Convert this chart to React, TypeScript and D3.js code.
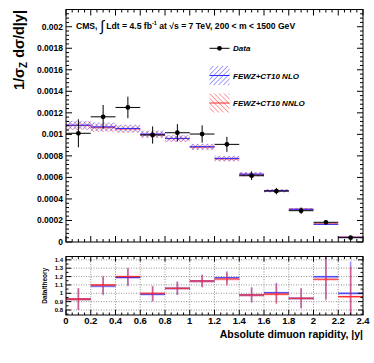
import React from 'react';
import * as d3 from 'd3';

// |y| bins (lower edges), width 0.2
const binLo = [0, 0.2, 0.4, 0.6, 0.8, 1.0, 1.2, 1.4, 1.6, 1.8, 2.0, 2.2];
const binWidth = 0.2;

// measured 1/sigma dsigma/d|y|
const dataVal = [0.00101, 0.001163, 0.00125, 0.000994, 0.001015, 0.001003, 0.000907, 0.000616, 0.000473, 0.000291, 0.000183, 0.00004];
const dataErr = [0.00013, 0.00011, 0.0001, 0.00008, 0.00008, 0.00008, 0.00007, 0.00004, 0.00003, 0.00003, 0.00002, 0.00001];

// theory predictions
const nloVal = [0.001086, 0.00107, 0.001055, 0.001003, 0.000963, 0.000885, 0.000777, 0.000631, 0.000476, 0.000304, 0.000164, 0.000044];
const nnloVal = [0.001082, 0.001062, 0.00105, 0.000998, 0.00096, 0.000882, 0.000772, 0.000628, 0.000478, 0.000305, 0.000168, 0.000046];
const theoryErr = [0.00004, 0.00004, 0.000035, 0.000032, 0.00003, 0.000027, 0.000024, 0.00002, 0.000015, 0.00001, 0.000006, 0.000003];

// data / theory
const ratioNlo = [0.93, 1.087, 1.19, 0.99, 1.06, 1.146, 1.185, 0.98, 1.007, 0.94, 1.198, 1.0];
const ratioNloErr = [0.13, 0.11, 0.105, 0.09, 0.08, 0.075, 0.08, 0.09, 0.12, 0.12, 0.27, 0.38];
const ratioNnlo = [0.93, 1.1, 1.2, 1.0, 1.06, 1.146, 1.17, 0.98, 0.99, 0.94, 1.167, 0.96];
const ratioNnloErr = [0.13, 0.11, 0.105, 0.09, 0.08, 0.075, 0.08, 0.09, 0.12, 0.12, 0.25, 0.36];

const yTicks = [0, 0.0002, 0.0004, 0.0006, 0.0008, 0.001, 0.0012, 0.0014, 0.0016, 0.0018, 0.002];
const yTickLabels = ['0', '0.0002', '0.0004', '0.0006', '0.0008', '0.001', '0.0012', '0.0014', '0.0016', '0.0018', '0.002'];
const xTicks = [0, 0.2, 0.4, 0.6, 0.8, 1, 1.2, 1.4, 1.6, 1.8, 2, 2.2, 2.4];
const xTickLabels = ['0', '0.2', '0.4', '0.6', '0.8', '1', '1.2', '1.4', '1.6', '1.8', '2', '2.2', '2.4'];
const rTicks = [0.8, 0.9, 1, 1.1, 1.2, 1.3, 1.4];
const rTickLabels = ['0.8', '0.9', '1', '1.1', '1.2', '1.3', '1.4'];

const FONT = '"Liberation Sans", Arial, Helvetica, sans-serif';
const BLUE = '#2b2bff';
const RED = '#ff2b2b';

export default function App() {
  const L = 66, R = 363;
  const topT = 9.5, topB = 242;
  const rT = 256.5, rB = 315;

  const x = d3.scaleLinear().domain([0, 2.4]).range([L, R]);
  const y = d3.scaleLinear().domain([0, 0.00216]).range([topB, topT]);
  const yr = d3.scaleLinear().domain([0.74, 1.44]).range([rB, rT]);

  const xMinor = d3.range(0, 2.4001, 0.05);
  const yMinor = d3.range(0, 0.00216, 0.00004);
  const rMinor = d3.range(0.75, 1.44, 0.05);

  const clampR = (v: number) => Math.max(0.74, Math.min(1.44, v));

  const band = (vals: number[], fill: string, color: string) =>
    binLo.map((lo, i) => (
      <g key={i}>
        <rect x={x(lo)} width={x(lo + binWidth) - x(lo)} y={y(vals[i] + theoryErr[i])}
          height={y(vals[i] - theoryErr[i]) - y(vals[i] + theoryErr[i])} fill={fill} />
        <line x1={x(lo)} x2={x(lo + binWidth)} y1={y(vals[i])} y2={y(vals[i])} stroke={color} strokeWidth={1} />
      </g>
    ));

  const ratioSeries = (vals: number[], errs: number[], color: string) =>
    binLo.map((lo, i) => {
      const c = lo + binWidth / 2;
      return (
        <g key={i}>
          <rect x={x(lo)} width={x(lo + binWidth) - x(lo)} y={yr(vals[i]) - 1} height={2.5} fill={color} opacity={0.25} />
          <line x1={x(c)} x2={x(c)} y1={yr(clampR(vals[i] + errs[i]))} y2={yr(clampR(vals[i] - errs[i]))}
            stroke={color} strokeWidth={1.6} opacity={0.5} />
          <line x1={x(lo)} x2={x(lo + binWidth)} y1={yr(vals[i])} y2={yr(vals[i])} stroke={color} strokeWidth={1.1} />
        </g>
      );
    });

  return (
    <svg width={374} height={363} style={{ position: 'absolute', left: 0, top: 0, background: '#fff' }}
      fontFamily={FONT} fontWeight="bold">
      <defs>
        <pattern id="hatchBlue" patternUnits="userSpaceOnUse" width={3.4} height={3.4} patternTransform="rotate(45)">
          <line x1={0} y1={0} x2={0} y2={3.4} stroke={BLUE} strokeWidth={0.9} />
        </pattern>
        <pattern id="hatchRed" patternUnits="userSpaceOnUse" width={3.4} height={3.4} patternTransform="rotate(-45)">
          <line x1={0} y1={0} x2={0} y2={3.4} stroke={RED} strokeWidth={0.9} />
        </pattern>
        <clipPath id="clipTop"><rect x={L} y={topT} width={R - L} height={topB - topT} /></clipPath>
        <clipPath id="clipR"><rect x={L} y={rT} width={R - L} height={rB - rT} /></clipPath>
      </defs>
      <rect x={0} y={0} width={374} height={363} fill="#fff" />

      {/* ---- upper panel ---- */}
      <g clipPath="url(#clipTop)">
        {band(nnloVal, 'url(#hatchRed)', RED)}
        {band(nloVal, 'url(#hatchBlue)', BLUE)}
        {binLo.map((lo, i) => {
          const c = lo + binWidth / 2;
          return (
            <g key={i}>
              <line x1={x(lo)} x2={x(lo + binWidth)} y1={y(dataVal[i])} y2={y(dataVal[i])} stroke="#000" strokeWidth={1} />
              <line x1={x(c)} x2={x(c)} y1={y(dataVal[i] + dataErr[i])} y2={y(dataVal[i] - dataErr[i])} stroke="#000" strokeWidth={1} />
              <circle cx={x(c)} cy={y(dataVal[i])} r={2.4} fill="#000" />
            </g>
          );
        })}
      </g>
      <rect x={L} y={topT} width={R - L} height={topB - topT} fill="none" stroke="#000" strokeWidth={1} />
      {xMinor.map((t, i) => {
        const major = Math.abs(t / 0.2 - Math.round(t / 0.2)) < 1e-6;
        const len = major ? 6 : 3;
        return (
          <g key={i}>
            <line x1={x(t)} x2={x(t)} y1={topB} y2={topB - len} stroke="#000" />
            <line x1={x(t)} x2={x(t)} y1={topT} y2={topT + len} stroke="#000" />
          </g>
        );
      })}
      {yMinor.map((t, i) => {
        const len = i % 5 === 0 ? 6 : 3;
        return (
          <g key={i}>
            <line x1={L} x2={L + len} y1={y(t)} y2={y(t)} stroke="#000" />
            <line x1={R} x2={R - len} y1={y(t)} y2={y(t)} stroke="#000" />
          </g>
        );
      })}
      {yTicks.map((t, i) => (
        <text key={i} x={L - 3} y={y(t)} dy="0.35em" textAnchor="end" fontSize={8.5}>{yTickLabels[i]}</text>
      ))}
      <text transform={`translate(24,10) rotate(-90)`} textAnchor="end" fontSize={14.5}>
        1/σ<tspan fontSize={10} dy={3}>Z</tspan><tspan dy={-3}> dσ/d|y|</tspan>
      </text>

      {/* header */}
      <text x={76} y={28.5} fontSize={8.6}>
        CMS, <tspan fontSize={15} fontWeight="normal" dy={2}>∫</tspan><tspan dy={-2}> Ldt = 4.5 fb</tspan>
        <tspan fontSize={5.5} dy={-3.5}>-1</tspan><tspan dy={3.5}> at √s = 7 TeV, 200 &lt; m &lt; 1500 GeV</tspan>
      </text>

      {/* legend */}
      <line x1={209.5} x2={229.5} y1={48.3} y2={48.3} stroke="#000" />
      <circle cx={219.5} cy={48.3} r={2.4} fill="#000" />
      <text x={233} y={51.3} fontSize={8} fontStyle="italic">Data</text>
      <rect x={209.5} y={66} width={20} height={19} fill="url(#hatchBlue)" />
      <line x1={209.5} x2={229.5} y1={75.5} y2={75.5} stroke={BLUE} />
      <text x={233} y={78.5} fontSize={8} fontStyle="italic">FEWZ+CT10 NLO</text>
      <rect x={209.5} y={93.5} width={20} height={19} fill="url(#hatchRed)" />
      <line x1={209.5} x2={229.5} y1={103} y2={103} stroke={RED} />
      <text x={233} y={106} fontSize={8} fontStyle="italic">FEWZ+CT10 NNLO</text>

      {/* ---- ratio panel ---- */}
      {xTicks.slice(1, -1).map((t, i) => (
        <line key={i} x1={x(t)} x2={x(t)} y1={rT} y2={rB} stroke="#777" strokeWidth={0.8} strokeDasharray="1,1.5" />
      ))}
      {rTicks.map((t, i) => (
        <line key={i} x1={L} x2={R} y1={yr(t)} y2={yr(t)} stroke="#777" strokeWidth={0.8} strokeDasharray="1,1.5" />
      ))}
      <g clipPath="url(#clipR)">
        {ratioSeries(ratioNlo, ratioNloErr, BLUE)}
        {ratioSeries(ratioNnlo, ratioNnloErr, RED)}
      </g>
      <rect x={L} y={rT} width={R - L} height={rB - rT} fill="none" stroke="#000" strokeWidth={1} />
      {xMinor.map((t, i) => {
        const major = Math.abs(t / 0.2 - Math.round(t / 0.2)) < 1e-6;
        const len = major ? 5 : 2.5;
        return (
          <g key={i}>
            <line x1={x(t)} x2={x(t)} y1={rB} y2={rB - len} stroke="#000" />
            <line x1={x(t)} x2={x(t)} y1={rT} y2={rT + len} stroke="#000" />
          </g>
        );
      })}
      {rMinor.map((t, i) => {
        const major = Math.abs(t * 10 - Math.round(t * 10)) < 1e-6;
        const len = major ? 5 : 2.5;
        return (
          <g key={i}>
            <line x1={L} x2={L + len} y1={yr(t)} y2={yr(t)} stroke="#000" />
            <line x1={R} x2={R - len} y1={yr(t)} y2={yr(t)} stroke="#000" />
          </g>
        );
      })}
      {rTicks.map((t, i) => (
        <text key={i} x={L - 3} y={yr(t)} dy="0.35em" textAnchor="end" fontSize={6}>{rTickLabels[i]}</text>
      ))}
      {xTicks.map((t, i) => (
        <text key={i} x={x(t)} y={324} textAnchor="middle" fontSize={9.5}>{xTickLabels[i]}</text>
      ))}
      <text transform={`translate(47,${(rT + rB) / 2}) rotate(-90)`} textAnchor="middle" fontSize={6.5}>Data/theory</text>
      <text x={R} y={338} textAnchor="end" fontSize={10.5}>Absolute dimuon rapidity, |y|</text>
    </svg>
  );
}
